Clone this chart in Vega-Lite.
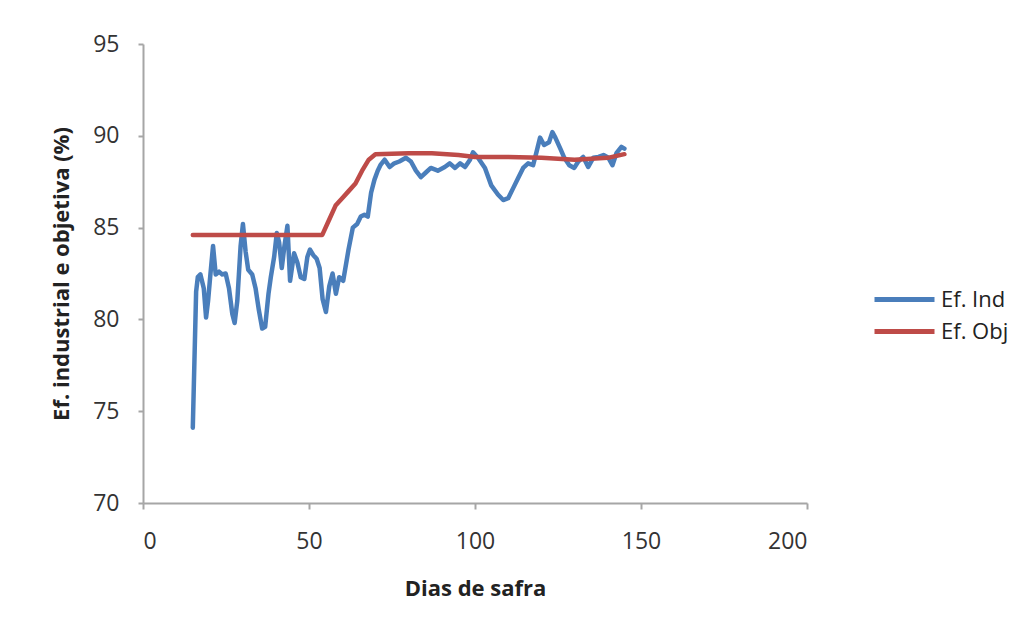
{
  "$schema": "https://vega.github.io/schema/vega-lite/v6.json",
  "autosize": {"type": "none"},
  "padding": {"left": 143, "top": 44, "right": 224, "bottom": 132},
  "width": 664,
  "height": 459,
  "background": "white",
  "config": {
    "view": {"stroke": null},
    "font": "Open Sans"
  },
  "datasets": {
    "ind": [
      {"dia": 15, "valor": 74.1}, {"dia": 16, "valor": 81.5}, {"dia": 16.5, "valor": 82.3},
      {"dia": 17.3, "valor": 82.45}, {"dia": 18.3, "valor": 81.7}, {"dia": 19.0, "valor": 80.1},
      {"dia": 19.6, "valor": 81.0}, {"dia": 20.3, "valor": 82.45}, {"dia": 21.1, "valor": 84.0},
      {"dia": 21.9, "valor": 82.45}, {"dia": 22.9, "valor": 82.6}, {"dia": 23.9, "valor": 82.45},
      {"dia": 24.9, "valor": 82.5}, {"dia": 25.9, "valor": 81.7}, {"dia": 26.9, "valor": 80.3},
      {"dia": 27.6, "valor": 79.8}, {"dia": 28.4, "valor": 81.0}, {"dia": 29.4, "valor": 84.0},
      {"dia": 30.1, "valor": 85.2}, {"dia": 30.9, "valor": 83.7}, {"dia": 31.7, "valor": 82.7},
      {"dia": 32.9, "valor": 82.45}, {"dia": 33.9, "valor": 81.7}, {"dia": 34.9, "valor": 80.5},
      {"dia": 35.9, "valor": 79.5}, {"dia": 36.8, "valor": 79.6}, {"dia": 37.8, "valor": 81.4},
      {"dia": 38.5, "valor": 82.3}, {"dia": 39.5, "valor": 83.4}, {"dia": 40.3, "valor": 84.7},
      {"dia": 41.0, "valor": 84.2}, {"dia": 41.8, "valor": 82.8}, {"dia": 42.6, "valor": 84.0},
      {"dia": 43.5, "valor": 85.1}, {"dia": 44.3, "valor": 82.1}, {"dia": 45.5, "valor": 83.6},
      {"dia": 46.5, "valor": 83.1}, {"dia": 47.5, "valor": 82.3}, {"dia": 48.6, "valor": 82.2},
      {"dia": 49.5, "valor": 83.4}, {"dia": 50.3, "valor": 83.8}, {"dia": 51.3, "valor": 83.5},
      {"dia": 52.3, "valor": 83.3}, {"dia": 53.2, "valor": 82.8}, {"dia": 54.1, "valor": 81.1},
      {"dia": 55.1, "valor": 80.4}, {"dia": 56.1, "valor": 81.8}, {"dia": 57.1, "valor": 82.5},
      {"dia": 58.1, "valor": 81.4}, {"dia": 59.1, "valor": 82.3}, {"dia": 60.3, "valor": 82.1},
      {"dia": 61.9, "valor": 83.8}, {"dia": 63.2, "valor": 85.0}, {"dia": 64.5, "valor": 85.2},
      {"dia": 65.6, "valor": 85.6}, {"dia": 66.7, "valor": 85.7}, {"dia": 67.7, "valor": 85.6},
      {"dia": 68.7, "valor": 86.9}, {"dia": 69.7, "valor": 87.6}, {"dia": 70.7, "valor": 88.1},
      {"dia": 71.5, "valor": 88.4}, {"dia": 72.8, "valor": 88.7}, {"dia": 74.3, "valor": 88.3},
      {"dia": 75.7, "valor": 88.5}, {"dia": 77.2, "valor": 88.6}, {"dia": 79.2, "valor": 88.8},
      {"dia": 80.7, "valor": 88.6}, {"dia": 82.2, "valor": 88.1}, {"dia": 83.7, "valor": 87.75},
      {"dia": 85.2, "valor": 88.0}, {"dia": 86.7, "valor": 88.25}, {"dia": 88.8, "valor": 88.1},
      {"dia": 90.9, "valor": 88.3}, {"dia": 92.4, "valor": 88.5}, {"dia": 94.0, "valor": 88.25},
      {"dia": 95.5, "valor": 88.5}, {"dia": 97.0, "valor": 88.3}, {"dia": 98.5, "valor": 88.7},
      {"dia": 99.4, "valor": 89.1}, {"dia": 100.9, "valor": 88.8}, {"dia": 103.0, "valor": 88.25},
      {"dia": 104.9, "valor": 87.3}, {"dia": 106.9, "valor": 86.8}, {"dia": 108.5, "valor": 86.5},
      {"dia": 110.0, "valor": 86.6}, {"dia": 111.5, "valor": 87.15}, {"dia": 113.0, "valor": 87.7},
      {"dia": 114.5, "valor": 88.25}, {"dia": 116.0, "valor": 88.5}, {"dia": 117.5, "valor": 88.4},
      {"dia": 118.5, "valor": 89.1}, {"dia": 119.6, "valor": 89.9}, {"dia": 120.8, "valor": 89.5},
      {"dia": 122.3, "valor": 89.65}, {"dia": 123.3, "valor": 90.2}, {"dia": 124.2, "valor": 89.9},
      {"dia": 125.7, "valor": 89.3}, {"dia": 126.9, "valor": 88.8}, {"dia": 128.4, "valor": 88.4},
      {"dia": 129.9, "valor": 88.25}, {"dia": 131.1, "valor": 88.6}, {"dia": 132.6, "valor": 88.85},
      {"dia": 134.1, "valor": 88.3}, {"dia": 135.6, "valor": 88.8}, {"dia": 137.2, "valor": 88.85},
      {"dia": 138.7, "valor": 88.95}, {"dia": 140.2, "valor": 88.8}, {"dia": 141.4, "valor": 88.4},
      {"dia": 142.6, "valor": 89.05}, {"dia": 144.1, "valor": 89.4}, {"dia": 145.0, "valor": 89.3}
    ],
    "obj": [
      {"dia": 15, "valor": 84.6}, {"dia": 54, "valor": 84.6}, {"dia": 56, "valor": 85.4},
      {"dia": 58, "valor": 86.2}, {"dia": 60, "valor": 86.6}, {"dia": 62, "valor": 87.0},
      {"dia": 64, "valor": 87.4}, {"dia": 66, "valor": 88.1}, {"dia": 68, "valor": 88.7},
      {"dia": 70, "valor": 89.0}, {"dia": 80, "valor": 89.05}, {"dia": 87, "valor": 89.05},
      {"dia": 95, "valor": 88.95}, {"dia": 100, "valor": 88.85}, {"dia": 110, "valor": 88.85},
      {"dia": 120, "valor": 88.8}, {"dia": 130, "valor": 88.7}, {"dia": 140, "valor": 88.8},
      {"dia": 145, "valor": 89.0}
    ]
  },
  "layer": [
    {
      "data": {"name": "ind"},
      "transform": [{"calculate": "'Ef. Ind'", "as": "serie"}],
      "mark": {"type": "line", "strokeWidth": 4.5, "strokeJoin": "round", "strokeCap": "round"},
      "encoding": {
        "x": {
          "field": "dia", "type": "quantitative",
          "scale": {"domain": [0, 200], "nice": false},
          "axis": {
            "title": "Dias de safra",
            "values": [0, 50, 100, 150, 200],
            "grid": false,
            "domainColor": "#A6A6A6", "domainWidth": 2,
            "tickColor": "#A6A6A6", "tickWidth": 2, "tickSize": 6,
            "labelFont": "Open Sans", "labelFontSize": 23, "labelColor": "#333333",
            "labelPadding": 21, "labelBaseline": "top",
            "titleFont": "Open Sans", "titleFontSize": 22, "titleFontWeight": "bold", "titleColor": "#222222",
            "titleY": 85, "titleBaseline": "middle"
          }
        },
        "y": {
          "field": "valor", "type": "quantitative",
          "scale": {"domain": [70, 95], "nice": false, "zero": false},
          "axis": {
            "title": "Ef. industrial e objetiva (%)",
            "values": [70, 75, 80, 85, 90, 95],
            "grid": false,
            "domainColor": "#A6A6A6", "domainWidth": 2,
            "tickColor": "#A6A6A6", "tickWidth": 2, "tickSize": 5,
            "labelFont": "Open Sans", "labelFontSize": 23, "labelColor": "#333333",
            "labelPadding": 19,
            "titleFont": "Open Sans", "titleFontSize": 22, "titleFontWeight": "bold", "titleColor": "#222222",
            "titleX": -82, "titleBaseline": "middle", "titleAlign": "center", "titleAngle": -90
          }
        },
        "color": {
          "field": "serie", "type": "nominal",
          "scale": {"domain": ["Ef. Ind", "Ef. Obj"], "range": ["#4A7EBB", "#BE4B48"]},
          "legend": {
            "title": null,
            "orient": "none",
            "legendX": 744,
            "legendY": 238,
            "symbolType": "M-2,0H2",
            "symbolSize": 900,
            "symbolStrokeWidth": 5,
            "labelFont": "Open Sans",
            "labelFontSize": 22,
            "labelColor": "#222222",
            "labelOffset": 19,
            "rowPadding": 3
          }
        }
      }
    },
    {
      "data": {"name": "obj"},
      "transform": [{"calculate": "'Ef. Obj'", "as": "serie"}],
      "mark": {"type": "line", "strokeWidth": 4.5, "strokeJoin": "round", "strokeCap": "round"},
      "encoding": {
        "x": {"field": "dia", "type": "quantitative"},
        "y": {"field": "valor", "type": "quantitative"},
        "color": {"field": "serie", "type": "nominal"}
      }
    }
  ]
}
